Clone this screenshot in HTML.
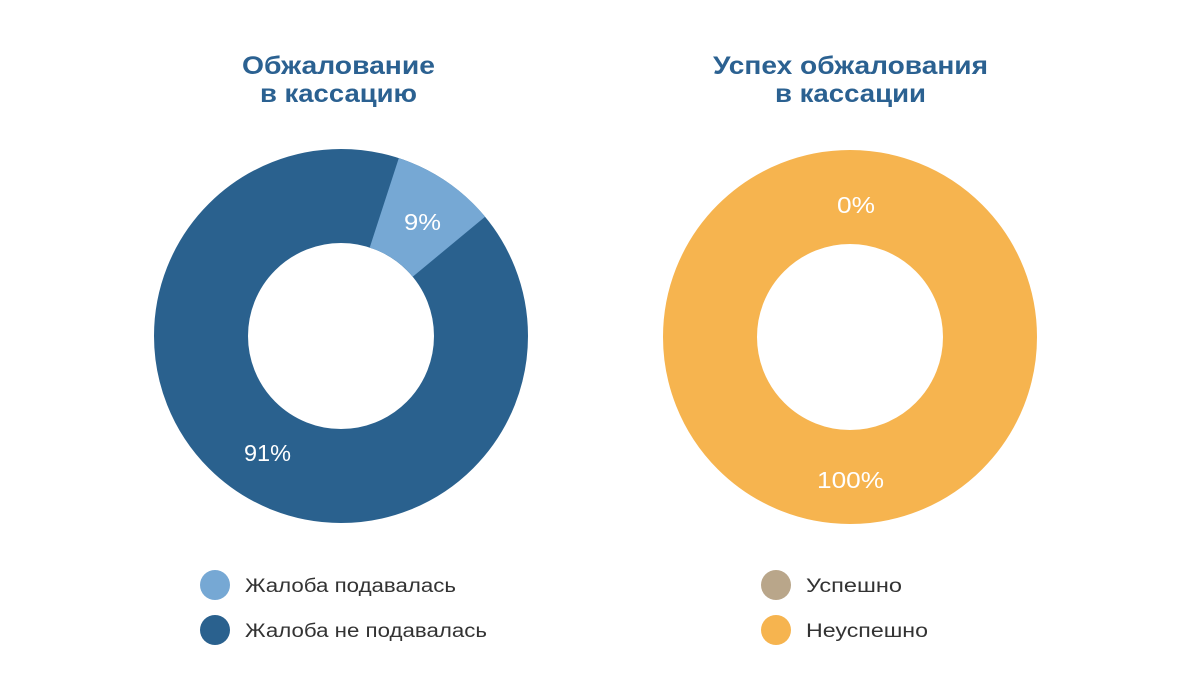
<!DOCTYPE html>
<html><head><meta charset="utf-8"><style>
html,body{margin:0;padding:0;background:#fff;}
svg{display:block;font-family:"Liberation Sans","DejaVu Sans",sans-serif;}
</style></head><body>
<svg width="1200" height="700" viewBox="0 0 1200 700">
<rect width="1200" height="700" fill="#fff"/>
<g font-weight="bold" font-size="25" fill="#2B6191" lengthAdjust="spacingAndGlyphs">
<text x="242" y="74" textLength="193" lengthAdjust="spacingAndGlyphs">Обжалование</text>
<text x="260" y="102" textLength="157" lengthAdjust="spacingAndGlyphs">в кассацию</text>
<text x="713" y="74" textLength="275" lengthAdjust="spacingAndGlyphs">Успех обжалования</text>
<text x="775" y="102" textLength="151" lengthAdjust="spacingAndGlyphs">в кассации</text>
</g>
<circle cx="341" cy="336" r="140" fill="none" stroke="#2A618E" stroke-width="94"/>
<path d="M398.8,158.1 A187,187 0 0 1 485.1,216.8 L412.7,276.7 A93,93 0 0 0 369.7,247.6 Z" fill="#76A8D4"/>
<circle cx="850" cy="337" r="140" fill="none" stroke="#F6B44F" stroke-width="94"/>
<g fill="#fff" font-size="23">
<text x="404" y="230" textLength="37" lengthAdjust="spacingAndGlyphs">9%</text>
<text x="244" y="461" textLength="47" lengthAdjust="spacingAndGlyphs">91%</text>
<text x="837" y="213" textLength="38" lengthAdjust="spacingAndGlyphs">0%</text>
<text x="817" y="488" textLength="67" lengthAdjust="spacingAndGlyphs">100%</text>
</g>
<circle cx="215" cy="585" r="15" fill="#76A8D4"/>
<circle cx="215" cy="630" r="15" fill="#2A618E"/>
<circle cx="776" cy="585" r="15" fill="#B9A68A"/>
<circle cx="776" cy="630" r="15" fill="#F6B44F"/>
<g fill="#333" font-size="19">
<text x="245" y="592" textLength="211" lengthAdjust="spacingAndGlyphs">Жалоба подавалась</text>
<text x="245" y="637" textLength="242" lengthAdjust="spacingAndGlyphs">Жалоба не подавалась</text>
<text x="806" y="592" textLength="96" lengthAdjust="spacingAndGlyphs">Успешно</text>
<text x="806" y="637" textLength="122" lengthAdjust="spacingAndGlyphs">Неуспешно</text>
</g>
</svg>
</body></html>
